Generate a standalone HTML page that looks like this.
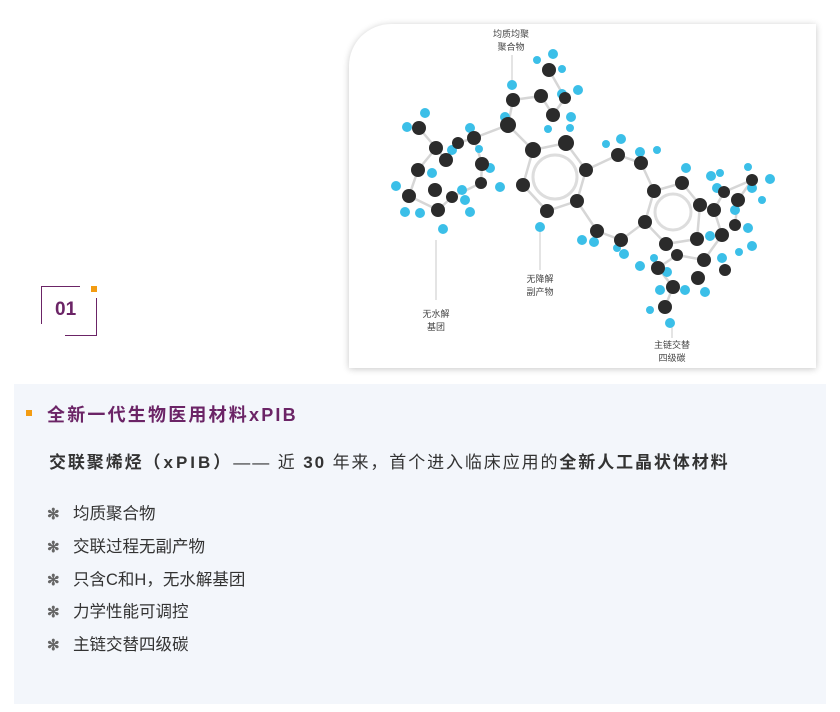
<!DOCTYPE html>
<html><head><meta charset="utf-8"><style>
body{margin:0;width:840px;height:712px;background:#fff;position:relative;overflow:hidden;font-family:"Liberation Sans","Noto Sans CJK SC",sans-serif}
.abs{position:absolute}
.card{left:349px;top:24px;width:467px;height:344px;background:#fff;border-top-left-radius:42px;box-shadow:0 1px 7px rgba(0,0,0,.22)}
.panel{left:14px;top:384px;width:812px;height:320px;background:#f3f6fb}
.li{position:absolute;left:47px;font-size:16.5px;color:#333}
.li span{color:#666;font-size:15px;display:inline-block;width:26px;font-weight:bold}
</style></head><body>
<div class="abs" style="left:41px;top:286px;width:39px;height:1px;background:#6b2466"></div>
<div class="abs" style="left:41px;top:286px;width:1px;height:38px;background:#6b2466"></div>
<div class="abs" style="left:96px;top:298px;width:1px;height:38px;background:#6b2466"></div>
<div class="abs" style="left:65px;top:335px;width:32px;height:1px;background:#6b2466"></div>
<div class="abs" style="left:91px;top:286px;width:6px;height:6px;background:#f39c12"></div>
<div class="abs" style="left:55px;top:299px;font-size:19px;font-weight:bold;color:#6b2466">01</div>

<div class="abs card">
<svg width="467" height="344" viewBox="349 24 467 344" style="position:absolute;left:0;top:0">
<g stroke="#ccc" stroke-width="2.5" fill="none" opacity=".8">
<polyline points="419,128 436,148 418,170 409,196 438,210 452,197 481,183 482,164 474,138 458,143 446,160 436,148"/>
<polyline points="474,138 508,125 513,100 541,96 553,115 565,98 549,70"/>
<polyline points="508,125 533,150 566,143 586,170 577,201 547,211 523,185 533,150"/>
<polyline points="586,170 618,155 641,163 654,191 645,222 666,244 697,239 700,205 682,183 654,191"/>
<polyline points="577,201 597,231 621,240 645,222"/>
<polyline points="700,205 714,210 722,235 704,260 677,255 658,268 673,287 665,307"/>
<polyline points="714,210 724,192 752,180 738,200 735,225"/>
<line x1="436" y1="240" x2="436" y2="300" stroke="#bbb" stroke-width="1"/>
<line x1="512" y1="55" x2="512" y2="90" stroke="#bbb" stroke-width="1"/>
<line x1="540" y1="230" x2="540" y2="270" stroke="#bbb" stroke-width="1"/>
<line x1="672" y1="320" x2="672" y2="338" stroke="#bbb" stroke-width="1"/>
</g>
<circle cx="555" cy="177" r="22" fill="none" stroke="#ddd" stroke-width="3"/>
<circle cx="673" cy="212" r="18" fill="none" stroke="#ddd" stroke-width="3"/>
<g fill="#3bbfe8">
<circle cx="425" cy="113" r="5"/><circle cx="407" cy="127" r="5"/><circle cx="396" cy="186" r="5"/><circle cx="405" cy="212" r="5"/><circle cx="420" cy="213" r="5"/><circle cx="443" cy="229" r="5"/><circle cx="465" cy="200" r="5"/><circle cx="470" cy="212" r="5"/><circle cx="500" cy="187" r="5"/><circle cx="490" cy="168" r="5"/><circle cx="470" cy="128" r="5"/><circle cx="452" cy="150" r="5"/><circle cx="432" cy="173" r="5"/><circle cx="462" cy="190" r="5"/><circle cx="479" cy="149" r="4"/>
<circle cx="512" cy="85" r="5"/><circle cx="505" cy="117" r="5"/><circle cx="537" cy="60" r="4"/><circle cx="553" cy="54" r="5"/><circle cx="562" cy="69" r="4"/><circle cx="562" cy="94" r="5"/><circle cx="578" cy="90" r="5"/><circle cx="571" cy="117" r="5"/><circle cx="548" cy="129" r="4"/><circle cx="570" cy="128" r="4"/>
<circle cx="540" cy="227" r="5"/><circle cx="606" cy="144" r="4"/><circle cx="621" cy="139" r="5"/><circle cx="640" cy="152" r="5"/><circle cx="657" cy="150" r="4"/><circle cx="582" cy="240" r="5"/><circle cx="594" cy="242" r="5"/><circle cx="617" cy="248" r="4"/><circle cx="624" cy="254" r="5"/>
<circle cx="686" cy="168" r="5"/><circle cx="711" cy="176" r="5"/><circle cx="720" cy="173" r="4"/><circle cx="748" cy="167" r="4"/><circle cx="770" cy="179" r="5"/><circle cx="762" cy="200" r="4"/><circle cx="752" cy="188" r="5"/><circle cx="717" cy="188" r="5"/><circle cx="735" cy="210" r="5"/><circle cx="748" cy="228" r="5"/><circle cx="752" cy="246" r="5"/><circle cx="739" cy="252" r="4"/><circle cx="722" cy="258" r="5"/><circle cx="710" cy="236" r="5"/><circle cx="640" cy="266" r="5"/><circle cx="654" cy="258" r="4"/><circle cx="667" cy="272" r="5"/><circle cx="685" cy="290" r="5"/><circle cx="705" cy="292" r="5"/><circle cx="660" cy="290" r="5"/><circle cx="650" cy="310" r="4"/><circle cx="670" cy="323" r="5"/>
</g>
<g fill="#2b2b2b">
<circle cx="419" cy="128" r="7"/><circle cx="436" cy="148" r="7"/><circle cx="418" cy="170" r="7"/><circle cx="446" cy="160" r="7"/><circle cx="458" cy="143" r="6"/><circle cx="474" cy="138" r="7"/><circle cx="482" cy="164" r="7"/><circle cx="435" cy="190" r="7"/><circle cx="409" cy="196" r="7"/><circle cx="438" cy="210" r="7"/><circle cx="452" cy="197" r="6"/><circle cx="481" cy="183" r="6"/>
<circle cx="508" cy="125" r="8"/><circle cx="513" cy="100" r="7"/><circle cx="541" cy="96" r="7"/><circle cx="553" cy="115" r="7"/><circle cx="549" cy="70" r="7"/><circle cx="565" cy="98" r="6"/>
<circle cx="533" cy="150" r="8"/><circle cx="566" cy="143" r="8"/><circle cx="586" cy="170" r="7"/><circle cx="577" cy="201" r="7"/><circle cx="547" cy="211" r="7"/><circle cx="523" cy="185" r="7"/>
<circle cx="618" cy="155" r="7"/><circle cx="641" cy="163" r="7"/><circle cx="597" cy="231" r="7"/><circle cx="621" cy="240" r="7"/>
<circle cx="654" cy="191" r="7"/><circle cx="682" cy="183" r="7"/><circle cx="645" cy="222" r="7"/><circle cx="666" cy="244" r="7"/><circle cx="697" cy="239" r="7"/><circle cx="700" cy="205" r="7"/>
<circle cx="714" cy="210" r="7"/><circle cx="724" cy="192" r="6"/><circle cx="752" cy="180" r="6"/><circle cx="738" cy="200" r="7"/><circle cx="735" cy="225" r="6"/><circle cx="722" cy="235" r="7"/><circle cx="704" cy="260" r="7"/><circle cx="725" cy="270" r="6"/><circle cx="677" cy="255" r="6"/><circle cx="658" cy="268" r="7"/><circle cx="673" cy="287" r="7"/><circle cx="698" cy="278" r="7"/><circle cx="665" cy="307" r="7"/>
</g>
<g font-size="9" fill="#444" text-anchor="middle" font-family="Liberation Sans,Noto Sans CJK SC,sans-serif">
<text x="511" y="37">均质均聚</text><text x="511" y="50">聚合物</text>
<text x="540" y="282">无降解</text><text x="540" y="295">副产物</text>
<text x="436" y="317">无水解</text><text x="436" y="330">基团</text>
<text x="672" y="348">主链交替</text><text x="672" y="361">四级碳</text>
</g>
</svg>
</div>

<div class="abs panel"></div>
<div class="abs" style="left:26px;top:410px;width:6px;height:6px;background:#f39c12"></div>
<div class="abs" style="left:47px;top:401px;font-size:18px;font-weight:bold;color:#6b2466;letter-spacing:2.2px">全新一代生物医用材料xPIB</div>
<div class="abs" style="left:49px;top:448px;font-size:17px;color:#333;letter-spacing:1.9px;white-space:nowrap"><b>交联聚烯烃<span style="letter-spacing:3px">（xPIB）</span></b>—— 近 <b>30</b> 年来，首个进入临床应用的<b>全新人工晶状体材料</b></div>
<div class="li" style="top:500px"><span>✻</span>均质聚合物</div>
<div class="li" style="top:533px"><span>✻</span>交联过程无副产物</div>
<div class="li" style="top:566px"><span>✻</span>只含C和H，无水解基团</div>
<div class="li" style="top:598px"><span>✻</span>力学性能可调控</div>
<div class="li" style="top:631px"><span>✻</span>主链交替四级碳</div>
</body></html>
